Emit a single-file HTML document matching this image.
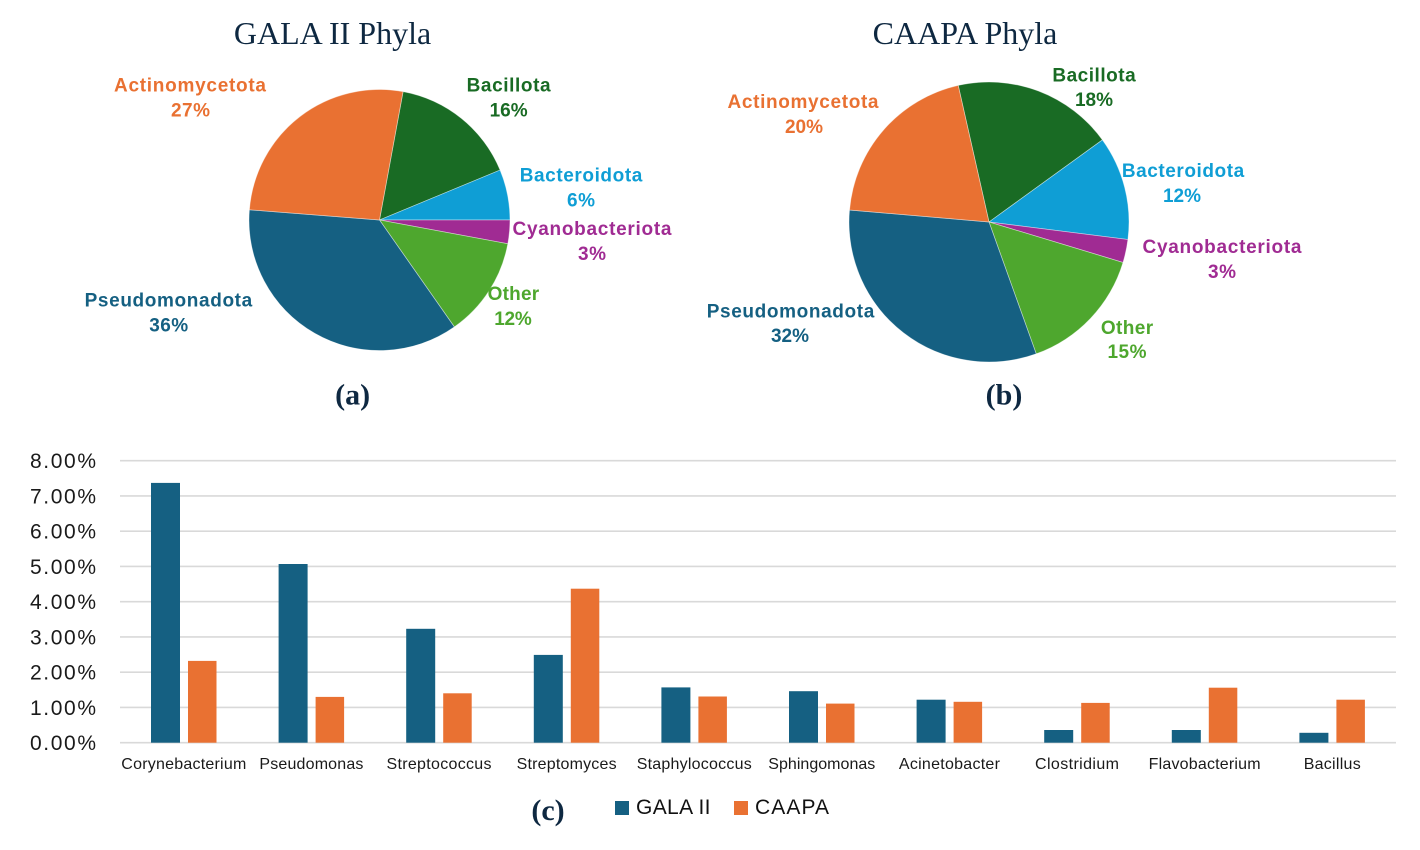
<!DOCTYPE html>
<html>
<head>
<meta charset="utf-8">
<style>
  html,body{margin:0;padding:0;background:#ffffff;}
  svg{display:block;}
  .t{font-family:"Liberation Serif",serif;fill:#0E2841;}
  .l{font-family:"Liberation Sans",sans-serif;font-weight:bold;font-size:19px;}
  .ax{font-family:"Liberation Sans",sans-serif;font-size:21px;fill:#1a1a1a;}
  .cat{font-family:"Liberation Sans",sans-serif;font-size:16px;fill:#1a1a1a;}
  .lg{font-family:"Liberation Sans",sans-serif;font-size:21px;fill:#111;}
</style>
</head>
<body>
<svg width="1420" height="850" viewBox="0 0 1420 850" xmlns="http://www.w3.org/2000/svg">
  <rect x="0" y="0" width="1420" height="850" fill="#ffffff"/>

  <!-- Titles -->
  <text class="t" x="332.5" y="44" font-size="32" text-anchor="middle">GALA II Phyla</text>
  <text class="t" x="965" y="44" font-size="32" text-anchor="middle">CAAPA Phyla</text>

  <!-- Pie (a) -->
  <g stroke="#ffffff" stroke-opacity="0.5" stroke-width="0.75">
    <path d="M379.5,220 L403.06,91.64 A130.5,130.5 0 0 1 500.07,170.06 Z" fill="#196B24"/>
    <path d="M379.5,220 L500.07,170.06 A130.5,130.5 0 0 1 510,220 Z" fill="#0F9ED5"/>
    <path d="M379.5,220 L510,220 A130.5,130.5 0 0 1 507.82,243.78 Z" fill="#A02B93"/>
    <path d="M379.5,220 L507.82,243.78 A130.5,130.5 0 0 1 454.35,326.90 Z" fill="#4EA72E"/>
    <path d="M379.5,220 L454.35,326.90 A130.5,130.5 0 0 1 249.40,209.76 Z" fill="#156082"/>
    <path d="M379.5,220 L249.40,209.76 A130.5,130.5 0 0 1 403.06,91.64 Z" fill="#E97132"/>
  </g>
  <g class="l" text-anchor="middle">
    <text x="190" y="91.5" fill="#E97132" textLength="152" lengthAdjust="spacing">Actinomycetota</text>
    <text x="190.5" y="116.5" fill="#E97132" textLength="39" lengthAdjust="spacing">27%</text>
    <text x="508.6" y="91.5" fill="#196B24" textLength="84" lengthAdjust="spacing">Bacillota</text>
    <text x="508.6" y="116.5" fill="#196B24" textLength="38" lengthAdjust="spacing">16%</text>
    <text x="581" y="181.5" fill="#0F9ED5" textLength="122.6" lengthAdjust="spacing">Bacteroidota</text>
    <text x="581" y="206.5" fill="#0F9ED5" textLength="28" lengthAdjust="spacing">6%</text>
    <text x="592" y="234.8" fill="#A02B93" textLength="159" lengthAdjust="spacing">Cyanobacteriota</text>
    <text x="592" y="259.8" fill="#A02B93" textLength="28" lengthAdjust="spacing">3%</text>
    <text x="513.4" y="299.8" fill="#4EA72E" textLength="51.6" lengthAdjust="spacing">Other</text>
    <text x="513" y="324.8" fill="#4EA72E" textLength="37.6" lengthAdjust="spacing">12%</text>
    <text x="168.4" y="306.5" fill="#156082" textLength="167.6" lengthAdjust="spacing">Pseudomonadota</text>
    <text x="168.7" y="331.5" fill="#156082" textLength="39" lengthAdjust="spacing">36%</text>
  </g>

  <!-- Pie (b) -->
  <g stroke="#ffffff" stroke-opacity="0.5" stroke-width="0.75">
    <path d="M989,222 L958.22,85.43 A140,140 0 0 1 1102.4,139.90 Z" fill="#196B24"/>
    <path d="M989,222 L1102.4,139.90 A140,140 0 0 1 1127.9,239.55 Z" fill="#0F9ED5"/>
    <path d="M989,222 L1127.9,239.55 A140,140 0 0 1 1123.0,262.47 Z" fill="#A02B93"/>
    <path d="M989,222 L1123.0,262.47 A140,140 0 0 1 1036.2,353.81 Z" fill="#4EA72E"/>
    <path d="M989,222 L1036.2,353.81 A140,140 0 0 1 849.52,210.04 Z" fill="#156082"/>
    <path d="M989,222 L849.52,210.04 A140,140 0 0 1 958.22,85.43 Z" fill="#E97132"/>
  </g>
  <g class="l" text-anchor="middle">
    <text x="803" y="108.2" fill="#E97132" textLength="151" lengthAdjust="spacing">Actinomycetota</text>
    <text x="804" y="133.2" fill="#E97132" textLength="38" lengthAdjust="spacing">20%</text>
    <text x="1094" y="81.5" fill="#196B24" textLength="83.3" lengthAdjust="spacing">Bacillota</text>
    <text x="1094" y="105.8" fill="#196B24" textLength="38" lengthAdjust="spacing">18%</text>
    <text x="1183" y="177.2" fill="#0F9ED5" textLength="122.3" lengthAdjust="spacing">Bacteroidota</text>
    <text x="1182" y="202.2" fill="#0F9ED5" textLength="38" lengthAdjust="spacing">12%</text>
    <text x="1222" y="253.2" fill="#A02B93" textLength="159" lengthAdjust="spacing">Cyanobacteriota</text>
    <text x="1222" y="278.2" fill="#A02B93" textLength="28" lengthAdjust="spacing">3%</text>
    <text x="1127" y="334.2" fill="#4EA72E" textLength="52.3" lengthAdjust="spacing">Other</text>
    <text x="1127" y="358.2" fill="#4EA72E" textLength="39" lengthAdjust="spacing">15%</text>
    <text x="790.5" y="317.5" fill="#156082" textLength="167.6" lengthAdjust="spacing">Pseudomonadota</text>
    <text x="790" y="342.2" fill="#156082" textLength="38" lengthAdjust="spacing">32%</text>
  </g>

  <!-- Sub labels -->
  <text class="t" x="352.6" y="404.4" font-size="30" font-weight="bold" text-anchor="middle">(a)</text>
  <text class="t" x="1004" y="404.4" font-size="30" font-weight="bold" text-anchor="middle">(b)</text>
  <text class="t" x="548" y="820" font-size="30" font-weight="bold" text-anchor="middle">(c)</text>

  <!-- Bar chart gridlines -->
  <g stroke="#D9D9D9" stroke-width="1.6">
    <line x1="120" y1="460.7" x2="1396" y2="460.7"/>
    <line x1="120" y1="495.95" x2="1396" y2="495.95"/>
    <line x1="120" y1="531.2" x2="1396" y2="531.2"/>
    <line x1="120" y1="566.45" x2="1396" y2="566.45"/>
    <line x1="120" y1="601.7" x2="1396" y2="601.7"/>
    <line x1="120" y1="636.95" x2="1396" y2="636.95"/>
    <line x1="120" y1="672.2" x2="1396" y2="672.2"/>
    <line x1="120" y1="707.45" x2="1396" y2="707.45"/>
    <line x1="120" y1="742.7" x2="1396" y2="742.7"/>
  </g>

  <!-- Y axis labels -->
  <g class="ax" text-anchor="end">
    <text x="96" y="468.2" textLength="66" lengthAdjust="spacing">8.00%</text>
    <text x="96" y="503.45" textLength="66" lengthAdjust="spacing">7.00%</text>
    <text x="96" y="538.7" textLength="66" lengthAdjust="spacing">6.00%</text>
    <text x="96" y="573.95" textLength="66" lengthAdjust="spacing">5.00%</text>
    <text x="96" y="609.2" textLength="66" lengthAdjust="spacing">4.00%</text>
    <text x="96" y="644.45" textLength="66" lengthAdjust="spacing">3.00%</text>
    <text x="96" y="679.7" textLength="66" lengthAdjust="spacing">2.00%</text>
    <text x="96" y="714.95" textLength="66" lengthAdjust="spacing">1.00%</text>
    <text x="96" y="750.2" textLength="66" lengthAdjust="spacing">0.00%</text>
  </g>

  <!-- Bars: blue (GALA II) -->
  <g fill="#156082">
    <rect x="151" y="482.9" width="29" height="259.8"/>
    <rect x="278.6" y="564.0" width="29" height="178.7"/>
    <rect x="406.2" y="628.8" width="29" height="113.9"/>
    <rect x="533.8" y="654.9" width="29" height="87.8"/>
    <rect x="661.4" y="687.4" width="29" height="55.3"/>
    <rect x="789" y="691.2" width="29" height="51.5"/>
    <rect x="916.6" y="699.7" width="29" height="43.0"/>
    <rect x="1044.2" y="730.0" width="29" height="12.7"/>
    <rect x="1171.8" y="730.0" width="29" height="12.7"/>
    <rect x="1299.4" y="732.8" width="29" height="9.9"/>
  </g>
  <!-- Bars: orange (CAAPA) -->
  <g fill="#E97132">
    <rect x="188" y="660.9" width="28.5" height="81.8"/>
    <rect x="315.6" y="696.9" width="28.5" height="45.8"/>
    <rect x="443.2" y="693.3" width="28.5" height="49.4"/>
    <rect x="570.8" y="588.7" width="28.5" height="154.0"/>
    <rect x="698.4" y="696.5" width="28.5" height="46.2"/>
    <rect x="826" y="703.6" width="28.5" height="39.1"/>
    <rect x="953.6" y="701.8" width="28.5" height="40.9"/>
    <rect x="1081.2" y="702.9" width="28.5" height="39.8"/>
    <rect x="1208.8" y="687.7" width="28.5" height="55.0"/>
    <rect x="1336.4" y="699.7" width="28.5" height="43.0"/>
  </g>

  <!-- Category labels -->
  <g class="cat" text-anchor="middle">
    <text x="183.8" y="769" textLength="125" lengthAdjust="spacing">Corynebacterium</text>
    <text x="311.4" y="769" textLength="104" lengthAdjust="spacing">Pseudomonas</text>
    <text x="439" y="769" textLength="105" lengthAdjust="spacing">Streptococcus</text>
    <text x="566.6" y="769" textLength="100" lengthAdjust="spacing">Streptomyces</text>
    <text x="694.2" y="769" textLength="115" lengthAdjust="spacing">Staphylococcus</text>
    <text x="821.8" y="769" textLength="107" lengthAdjust="spacing">Sphingomonas</text>
    <text x="949.4" y="769" textLength="101" lengthAdjust="spacing">Acinetobacter</text>
    <text x="1077" y="769" textLength="84" lengthAdjust="spacing">Clostridium</text>
    <text x="1204.6" y="769" textLength="112" lengthAdjust="spacing">Flavobacterium</text>
    <text x="1332.2" y="769" textLength="57" lengthAdjust="spacing">Bacillus</text>
  </g>

  <!-- Legend -->
  <rect x="615" y="801" width="14" height="14" fill="#156082"/>
  <text class="lg" x="636" y="814" textLength="74.5" lengthAdjust="spacing">GALA II</text>
  <rect x="734" y="801" width="14" height="14" fill="#E97132"/>
  <text class="lg" x="755" y="814" textLength="74" lengthAdjust="spacing">CAAPA</text>
</svg>
</body>
</html>
